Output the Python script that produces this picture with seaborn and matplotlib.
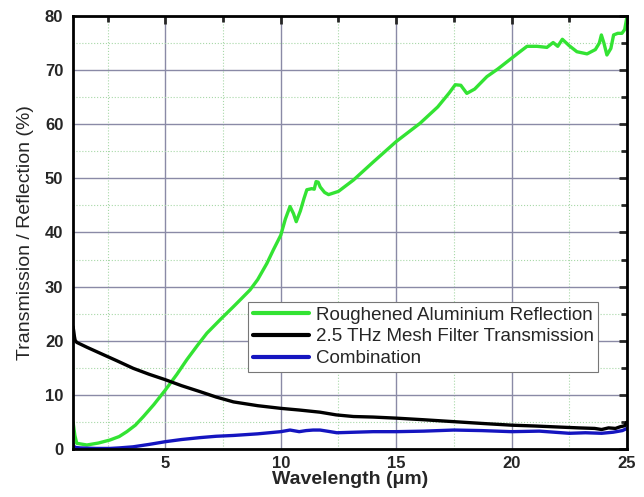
import numpy as np
import pandas as pd
import matplotlib
matplotlib.use("Agg")
import matplotlib.pyplot as plt
import seaborn as sns
from matplotlib.ticker import MultipleLocator

sns.set_style("white")
plt.rcParams['font.family'] = ['Liberation Sans', 'DejaVu Sans']

# Roughened Aluminium Reflection
refl_x = [1.0, 1.08, 1.16, 1.6, 2.1, 2.6, 3.0, 3.33, 3.7, 4.05, 4.5, 5.0, 5.5, 5.93, 6.4, 6.8,
          7.4, 7.95, 8.3, 8.67, 9.0, 9.4, 9.68, 10.0, 10.2, 10.4, 10.55, 10.67, 10.85, 11.0,
          11.13, 11.34, 11.45, 11.53, 11.62, 11.71, 11.9, 12.07, 12.5, 13.15, 14.0, 15.0,
          16.04, 16.8, 17.3, 17.56, 17.8, 18.06, 18.4, 18.93, 19.4, 20.0, 20.3, 20.67, 21.1,
          21.53, 21.8, 22.0, 22.2, 22.5, 22.83, 23.27, 23.63, 23.8, 23.89, 24.0, 24.13, 24.3,
          24.42, 24.6, 24.78, 24.9, 25.0]
refl_y = [5.0, 2.5, 1.05, 0.74, 1.1, 1.66, 2.3, 3.2, 4.4, 6.0, 8.2, 10.9, 13.8, 16.5, 19.2, 21.4,
          24.0, 26.3, 27.8, 29.4, 31.3, 34.3, 36.8, 39.5, 42.5, 44.8, 43.5, 42.0, 44.0, 46.2,
          47.9, 48.1, 48.0, 49.4, 49.3, 48.4, 47.4, 47.0, 47.6, 49.7, 53.0, 56.8,
          60.2, 63.2, 65.8, 67.3, 67.2, 65.7, 66.5, 68.8, 70.2, 72.2, 73.2, 74.4, 74.4,
          74.2, 75.1, 74.4, 75.7, 74.5, 73.4, 73.0, 73.8, 75.0, 76.5, 75.0, 72.8, 74.0,
          76.5, 76.8, 76.8, 77.5, 79.9]

# 2.5 THz Mesh Filter Transmission
mesh_x = [1.0, 1.03, 1.06, 1.09, 1.16, 1.6, 2.17, 2.9, 3.61, 4.3, 5.0, 5.7, 6.5, 7.2, 7.95,
          9.0, 10.02, 10.8, 11.7, 12.4, 13.15, 14.0, 15.0, 16.2, 17.5, 18.8, 20.0, 21.0,
          21.8, 22.9, 23.6, 23.9, 24.2, 24.5, 24.7, 24.9, 25.0]
mesh_y = [22.6, 21.8, 20.8, 20.1, 19.7, 18.8, 17.7, 16.3, 14.9, 13.8, 12.8, 11.7, 10.6, 9.6, 8.7,
          8.0, 7.5, 7.2, 6.8, 6.3, 6.0, 5.9, 5.7, 5.4, 5.05, 4.7, 4.4, 4.25,
          4.1, 3.9, 3.8, 3.6, 3.9, 3.8, 4.1, 4.3, 5.0]

# Combination
comb_x = [1.0, 1.03, 1.08, 1.3, 2.0, 2.6, 3.0, 3.6, 4.3, 5.0, 5.7, 6.5, 7.2, 7.95, 9.0, 10.0,
          10.4, 10.8, 11.1, 11.4, 11.7, 12.0, 12.43, 13.2, 14.0, 15.0, 16.2, 17.5, 18.7, 20.0,
          21.2, 22.5, 23.2, 23.9, 24.4, 24.8, 25.0]
comb_y = [1.0, 0.5, 0.3, 0.2, 0.1, 0.1, 0.2, 0.4, 0.85, 1.35, 1.75, 2.1, 2.35, 2.5, 2.8, 3.2,
          3.5, 3.2, 3.4, 3.5, 3.5, 3.3, 3.0, 3.1, 3.2, 3.2, 3.3, 3.5, 3.4, 3.2,
          3.3, 2.9, 3.0, 2.9, 3.1, 3.4, 3.8]

x_ticks = [5, 10, 15, 20, 25]
x_tick_labels = ["5", "10", "15", "20", "25"]
y_ticks = [0, 10, 20, 30, 40, 50, 60, 70, 80]
y_tick_labels = ["0", "10", "20", "30", "40", "50", "60", "70", "80"]

labels = ["Roughened Aluminium Reflection", "2.5 THz Mesh Filter Transmission", "Combination"]
colors = ["#33e333", "#000000", "#1515c0"]

df = pd.concat([
    pd.DataFrame({"x": refl_x, "y": refl_y, "series": labels[0]}),
    pd.DataFrame({"x": mesh_x, "y": mesh_y, "series": labels[1]}),
    pd.DataFrame({"x": comb_x, "y": comb_y, "series": labels[2]}),
], ignore_index=True)

fig = plt.figure(figsize=(6.44, 4.97), dpi=100)
ax = fig.add_axes([0.1134, 0.0966, 0.8602, 0.8712])

ax.set_xlim(1, 25)
ax.set_ylim(0, 80)
ax.xaxis.set_major_locator(MultipleLocator(5))
ax.xaxis.set_minor_locator(MultipleLocator(2.5))
ax.yaxis.set_major_locator(MultipleLocator(10))
ax.yaxis.set_minor_locator(MultipleLocator(5))
ax.grid(which='major', color='#8a8aa6', linewidth=1.0, linestyle='-')
ax.grid(which='minor', color='#a8d8a8', linewidth=0.8, linestyle=':')
ax.set_axisbelow(True)

sns.lineplot(data=df, x="x", y="y", hue="series", palette=dict(zip(labels, colors)),
             sort=False, estimator=None, linewidth=2.4, ax=ax)

for s in ax.spines.values():
    s.set_linewidth(2.0)
    s.set_color('black')
    s.set_visible(True)

ax.tick_params(which='both', direction='in', top=True, right=True, width=2.0)
ax.tick_params(which='major', length=6, pad=7)
ax.tick_params(which='minor', length=4)
ax.set_xticks(x_ticks)
ax.set_xticklabels(x_tick_labels, fontweight='bold', fontsize=12)
ax.set_yticks(y_ticks)
ax.set_yticklabels(y_tick_labels, fontweight='bold', fontsize=12)
ax.tick_params(axis='x', which='major', pad=5)

ax.set_xlabel("Wavelength (\u03bcm)", fontsize=14, fontweight='bold', labelpad=0)
ax.set_ylabel("Transmission / Reflection (%)", fontsize=14, labelpad=8)

leg = ax.legend(loc='upper left', bbox_to_anchor=(0.316, 0.34), fontsize=13.5,
                frameon=True, fancybox=False, edgecolor='#777777', framealpha=1,
                handlelength=3.0, borderpad=0.25, labelspacing=0.25, handletextpad=0.35,
                borderaxespad=0)
leg.get_frame().set_linewidth(0.8)
for h in leg.get_lines():
    h.set_linewidth(3)

fig.savefig("out.png", dpi=100)
